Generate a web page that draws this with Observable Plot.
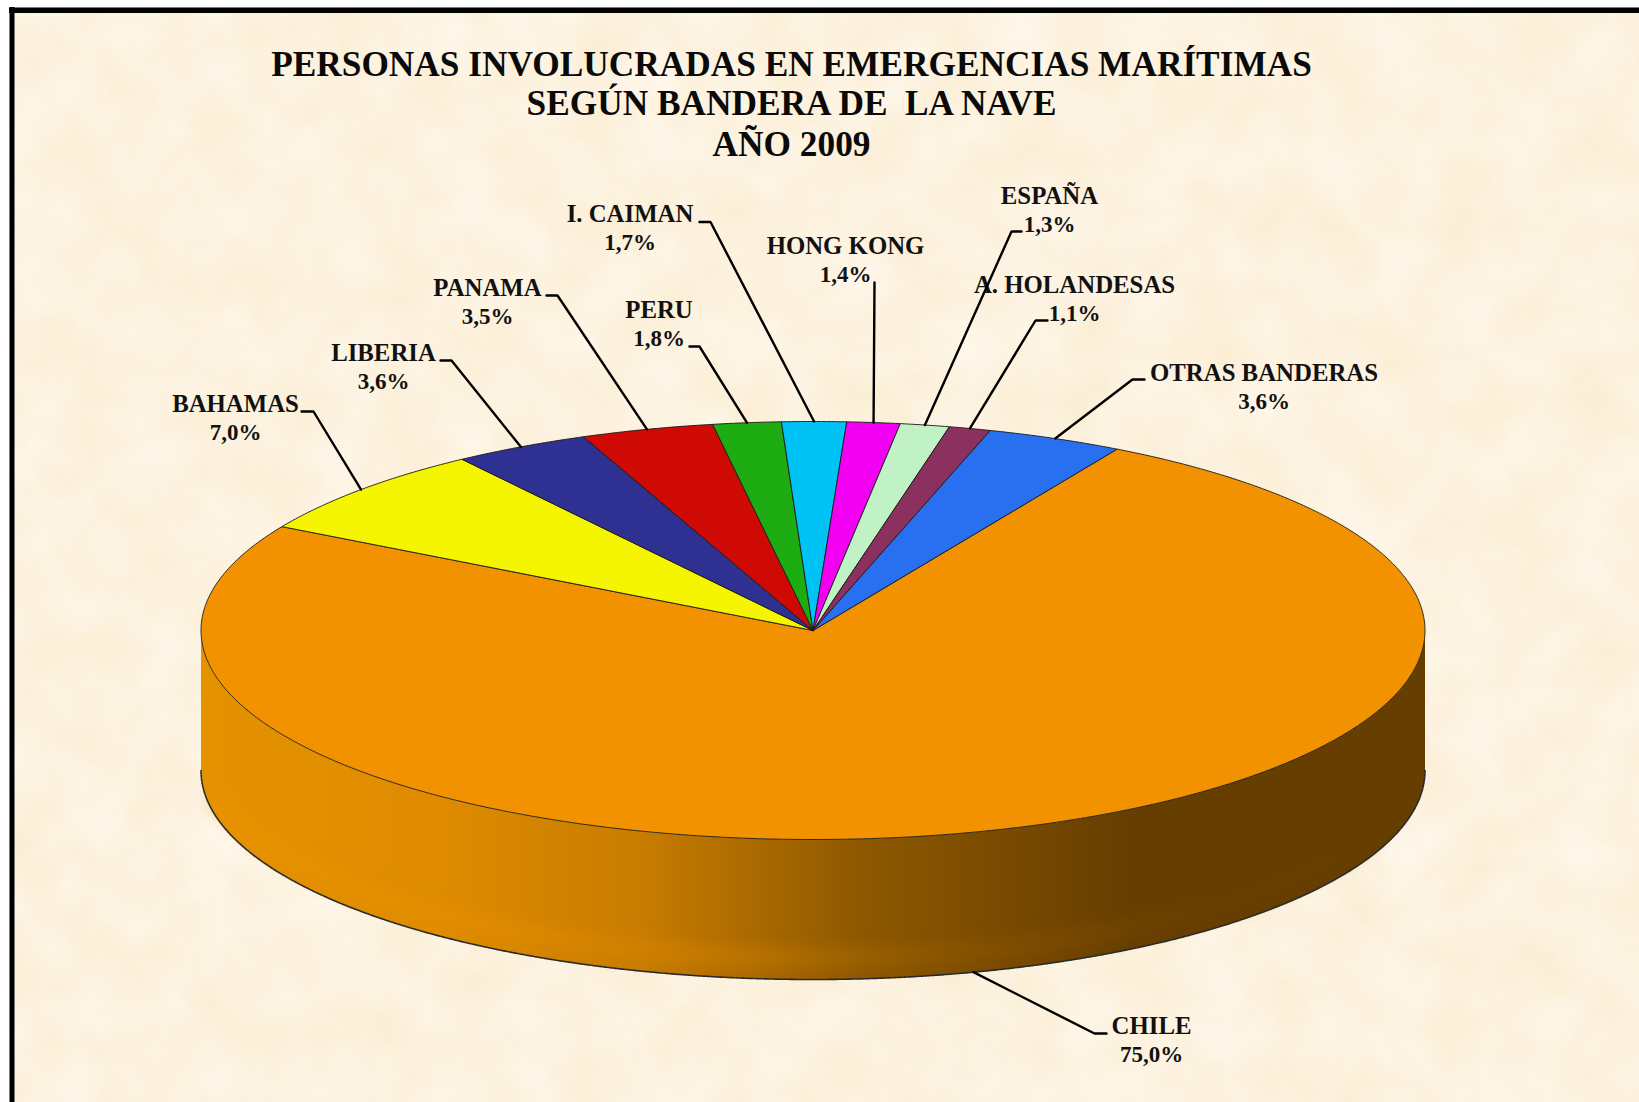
<!DOCTYPE html>
<html><head><meta charset="utf-8">
<script src="https://cdn.jsdelivr.net/npm/d3@7"></script>
<script src="https://cdn.jsdelivr.net/npm/@observablehq/plot@0.6"></script>
<style>html,body{margin:0;padding:0;background:#fff}svg{display:block}</style>
</head><body><div id="chart"></div>
<script>
// Data
const names = ["CHILE","BAHAMAS","LIBERIA","PANAMA","PERU","I. CAIMAN","HONG KONG","ESPAÑA","A. HOLANDESAS","OTRAS BANDERAS"];
const values = [75.0,7.0,3.6,3.5,1.8,1.7,1.4,1.3,1.1,3.6];
const colors = ["#F29200","#F5F500","#2E3192","#CF0A05","#1EAC13","#00C3F5","#F200F2","#C0F2C5","#8C3060","#2870F0"];
const titleLines = ["PERSONAS INVOLUCRADAS EN EMERGENCIAS MARÍTIMAS","SEGÚN BANDERA DE  LA NAVE","AÑO 2009"];

// Layout of the pie and of the callouts (page pixels)
const W = 1639, H = 1102;
const cx = 812.5, cy = 630, rx = 612, ry = 209, depth = 140, startDeg = 29.8;
// name -> label centre x, first-line centre y, elbow outer x, elbow inner x, elbow y
const callouts = {
  "CHILE":[1151,1025.5,1106,1094,1033],
  "BAHAMAS":[235,404,301,313,411],
  "LIBERIA":[383,352.5,440,451,360],
  "PANAMA":[487,288,546,557,295],
  "PERU":[658.5,309.5,689,699,346],
  "I. CAIMAN":[629.5,214,699,710,221.5],
  "HONG KONG":[845,245.5,874,874,282],
  "ESPAÑA":[1049,195.5,1021,1011,231],
  "A. HOLANDESAS":[1074,284.5,1047,1035,320],
  "OTRAS BANDERAS":[1263.5,372.5,1144,1132,379]
};

const total = d3.sum(values);
const pt = (deg, drop = 0) => {
  const t = deg * Math.PI / 180;
  return {x: cx + rx * Math.sin(t), y: cy - ry * Math.cos(t) + drop};
};
let acc = startDeg;
const slices = names.map((name, i) => {
  const a0 = acc, a1 = acc + values[i] / total * 360;
  acc = a1;
  return {name, value: values[i], a0, a1, mid: (a0 + a1) / 2};
});
const faceRows = slices.flatMap(s => {
  const n = Math.max(2, Math.ceil((s.a1 - s.a0) * 2));
  const arc = d3.range(n + 1).map(k => ({name: s.name, ...pt(s.a0 + (s.a1 - s.a0) * k / n)}));
  const apex = {name: s.name, x: cx, y: cy};
  return [apex, ...arc, apex];
});
const front = d3.range(90, 270.01, 0.5);
const sideRows = [...front.map(d => pt(d)), ...front.slice().reverse().map(d => pt(d, depth))];
const rimRows = front.map(d => pt(d, depth));
const glowRows = d3.range(115, 255.01, 1).map(d => pt(d, depth - 22));

const leaderRows = slices.flatMap(s => {
  const c = callouts[s.name];
  const end = s.name === "CHILE" ? pt(s.mid, depth) : pt(s.mid);
  return [{name:s.name,x:c[2],y:c[4]},{name:s.name,x:c[3],y:c[4]},{name:s.name,...end}];
});
const fmt = v => v.toFixed(1).replace(".", ",") + "%";
const nameRows = slices.map(s => ({t:s.name,x:callouts[s.name][0],y:callouts[s.name][1]}));
const pctRows = slices.map(s => ({t:fmt(s.value),x:callouts[s.name][0],y:callouts[s.name][1]+28.5}));
const titleRows = titleLines.map((t,i)=>({t,x:791,y:[64,103.5,144][i]}));

const serif = "'Liberation Serif','Times New Roman',serif";
const plot = Plot.plot({
  width: W, height: H, margin: 0,
  x: {domain:[0,W], range:[0,W], axis:null},
  y: {domain:[0,H], range:[0,H], axis:null},
  color: {domain:names, range:colors},
  style: {background:"#fff"},
  marks: [
    Plot.rect([{x1:9,x2:W,y1:7,y2:H}], {x1:"x1",x2:"x2",y1:"y1",y2:"y2",fill:"#FDF3DF",imageFilter:"url(#parchment)"}),
    Plot.ruleX([11.5],{y1:7,y2:H,stroke:"#000",strokeWidth:5}),
    Plot.ruleY([9.8],{x1:9,x2:W,stroke:"#000",strokeWidth:5.4}),
    Plot.line(sideRows,{x:"x",y:"y",fill:"url(#side)",stroke:"none"}),
    Plot.line(glowRows,{x:"x",y:"y",stroke:"url(#sideGlow)",strokeWidth:20,strokeOpacity:0.5,imageFilter:"blur(7px)"}),
    Plot.line(rimRows,{x:"x",y:"y",stroke:"#2a2a2a",strokeWidth:1.6,strokeDasharray:"2.5 1"}),
    Plot.line(faceRows,{x:"x",y:"y",z:"name",fill:"name",stroke:"#1a1a1a",strokeWidth:0.9,strokeLinejoin:"round"}),
    Plot.text(nameRows,{x:"x",y:"y",text:"t",fontFamily:serif,fontWeight:"bold",fontSize:24.8,fill:"#111",textAnchor:"middle",lineAnchor:"middle"}),
    Plot.text(pctRows,{x:"x",y:"y",text:"t",fontFamily:serif,fontWeight:"bold",fontSize:23,fill:"#111",textAnchor:"middle",lineAnchor:"middle"}),
    Plot.line(leaderRows,{x:"x",y:"y",z:"name",stroke:"#000",strokeWidth:2.4,strokeLinejoin:"miter"}),
    Plot.text(titleRows,{x:"x",y:"y",text:"t",fontFamily:serif,fontWeight:"bold",fontSize:35.3,fill:"#0a0a0a",textAnchor:"middle",lineAnchor:"middle"})
  ]
});
const defs = new DOMParser().parseFromString(`<svg xmlns="http://www.w3.org/2000/svg"><defs>
<filter id="parchment" x="0" y="0" width="100%" height="100%" color-interpolation-filters="sRGB">
<feTurbulence type="fractalNoise" baseFrequency="0.016" numOctaves="4" seed="7"/>
<feColorMatrix type="matrix" values="0.02 0 0 0 0.982  0.05 0 0 0 0.925  0.12 0 0 0 0.815  0 0 0 0 1"/>
</filter>
<linearGradient id="side" gradientUnits="userSpaceOnUse" x1="200" x2="1425" y1="0" y2="0">
<stop offset="0" stop-color="#E59200"/><stop offset="0.2" stop-color="#DE8B00"/><stop offset="0.36" stop-color="#C87C00"/>
<stop offset="0.46" stop-color="#A86800"/><stop offset="0.54" stop-color="#8D5800"/><stop offset="0.68" stop-color="#754700"/>
<stop offset="0.76" stop-color="#663E00"/><stop offset="1" stop-color="#663E00"/>
</linearGradient>
<linearGradient id="sideGlow" gradientUnits="userSpaceOnUse" x1="300" x2="1500" y1="0" y2="0">
<stop offset="0" stop-color="#EE9400"/><stop offset="0.2" stop-color="#E58C00"/><stop offset="0.36" stop-color="#CF7F00"/>
<stop offset="0.46" stop-color="#AD6A00"/><stop offset="0.54" stop-color="#925A00"/><stop offset="0.68" stop-color="#7A4900"/>
<stop offset="0.76" stop-color="#6A4000"/><stop offset="1" stop-color="#663E00"/>
</linearGradient></defs></svg>`,"image/svg+xml").documentElement.firstElementChild;
plot.insertBefore(document.importNode(defs,true), plot.firstChild);
document.getElementById("chart").appendChild(plot);
</script></body></html>
